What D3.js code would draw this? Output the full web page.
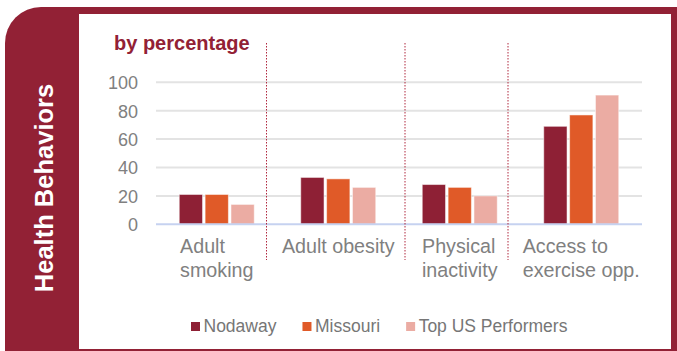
<!DOCTYPE html>
<html>
<head>
<meta charset="utf-8">
<script src="https://cdn.jsdelivr.net/npm/d3@7"></script>
<style>
	body { margin: 0; background: #fff; }
	svg { display: block; font-family: "Liberation Sans", Arial, sans-serif; }
</style>
</head>
<body>
<div id="chart"></div>
<script>

// data
var categories = [["Adult", "smoking"], ["Adult obesity"], ["Physical", "inactivity"], ["Access to", "exercise opp."]];
var seriesNames = ["Nodaway", "Missouri", "Top US Performers"];
var nodaway = [21, 33, 28, 69];
var missouri = [21, 32, 26, 77];
var topUS = [14, 26, 20, 91];
var yTicks = [0, 20, 40, 60, 80, 100];
var colors = ["#8E2035", "#E05A28", "#EBACA3"];

var values = [nodaway, missouri, topUS];

var width = 677, height = 351;
var maroon = "#922135";

var svg = d3.select("#chart")
	.append("svg")
	.attr("width", width)
	.attr("height", height);

// frame with rounded corner on the left
svg.append("path")
	.attr("d", "M5,351 L5,43 A36,36 0 0 1 41,7 L677,7 L677,351 Z")
	.attr("fill", maroon);

svg.append("rect")
	.attr("x", 79)
	.attr("y", 14)
	.attr("width", 671 - 79)
	.attr("height", 349 - 14)
	.attr("fill", "#fff");

svg.append("text")
	.attr("transform", "translate(53,188) rotate(-90)")
	.attr("text-anchor", "middle")
	.attr("fill", "#fff")
	.attr("font-weight", "bold")
	.attr("font-size", "25.5px")
	.text("Health Behaviors");

// plot area
var x0 = 156, x1 = 642, yTop = 82.3, yBase = 224.3;

var xPlot = d3.scaleBand()
	.domain(d3.range(categories.length))
	.range([x0, x1]);

var yPlot = d3.scaleLinear()
	.domain([0, 100])
	.range([yBase, yTop]);

var xInner = d3.scaleBand()
	.domain(d3.range(seriesNames.length))
	.range([0, 75])
	.paddingInner(0.1);

var g = svg.append("g");

// gridlines
g.selectAll(".grid")
	.data(yTicks.filter(function (t) { return t > 0; }))
	.enter()
	.append("line")
	.attr("x1", x0)
	.attr("x2", x1)
	.attr("y1", function (d) { return yPlot(d); })
	.attr("y2", function (d) { return yPlot(d); })
	.attr("stroke", "#E3E3E3")
	.attr("stroke-width", 2);

// y axis labels
var yAxisPlot = d3.axisLeft(yPlot)
	.tickValues(yTicks)
	.tickSize(0)
	.tickPadding(0);

var yAxis = svg.append("g")
	.attr("transform", "translate(138,0)")
	.call(yAxisPlot);
yAxis.select(".domain").remove();
yAxis.selectAll("text")
	.attr("font-size", "18px")
	.attr("font-family", "Liberation Sans, Arial, sans-serif")
	.attr("fill", "#808080")
	.attr("dy", "0.36em");

// bars
var groups = g.selectAll(".group")
	.data(categories)
	.enter()
	.append("g")
	.attr("transform", function (d, i) {
		return "translate(" + (xPlot(i) + xPlot.bandwidth() / 2 - 37.5) + ",0)";
	});

groups.selectAll("rect")
	.data(function (d, i) {
		return values.map(function (s, k) { return {k: k, v: s[i]}; });
	})
	.enter()
	.append("rect")
	.attr("x", function (d) { return xInner(d.k); })
	.attr("width", xInner.bandwidth())
	.attr("y", function (d) { return yPlot(d.v); })
	.attr("height", function (d) { return yBase - yPlot(d.v); })
	.attr("fill", function (d) { return colors[d.k]; })
	.attr("stroke", "rgba(255,255,255,0.5)")
	.attr("stroke-width", 1);

// baseline
g.append("line")
	.attr("x1", x0)
	.attr("x2", x1)
	.attr("y1", yBase)
	.attr("y2", yBase)
	.attr("stroke", "#C6D2F0")
	.attr("stroke-width", 2);

// category labels, block centred, lines left aligned
categories.forEach(function (lines, i) {
	var t = svg.append("text")
		.attr("font-size", "19.7px")
		.attr("fill", "#808080");
	lines.forEach(function (line, j) {
		t.append("tspan")
			.attr("y", 253 + j * 23.5)
			.text(line);
	});
	var w = d3.max(t.selectAll("tspan").nodes(), function (n) { return n.getComputedTextLength(); });
	t.selectAll("tspan").attr("x", xPlot(i) + xPlot.bandwidth() / 2 - w / 2);
});

// dotted separators
var separators = [266.5, 405, 508];
svg.selectAll(".sep")
	.data(separators)
	.enter()
	.append("line")
	.attr("x1", function (d) { return d; })
	.attr("x2", function (d) { return d; })
	.attr("y1", 43)
	.attr("y2", 260)
	.attr("stroke", "#B0283F")
	.attr("stroke-width", 1)
	.attr("stroke-dasharray", "1.5,1.5");

// title
svg.append("text")
	.attr("x", 114)
	.attr("y", 50)
	.attr("font-size", "20px")
	.attr("font-weight", "bold")
	.attr("fill", maroon)
	.text("by percentage");

// legend
var lx = 191;
seriesNames.forEach(function (name, k) {
	svg.append("rect")
		.attr("x", lx)
		.attr("y", 322)
		.attr("width", 9)
		.attr("height", 9)
		.attr("fill", colors[k]);
	var t = svg.append("text")
		.attr("x", lx + 12.5)
		.attr("y", 331.5)
		.attr("font-size", "17.5px")
		.attr("fill", "#767676")
		.text(name);
	lx += 12.5 + t.node().getComputedTextLength() + 26;
});

</script>
</body>
</html>
